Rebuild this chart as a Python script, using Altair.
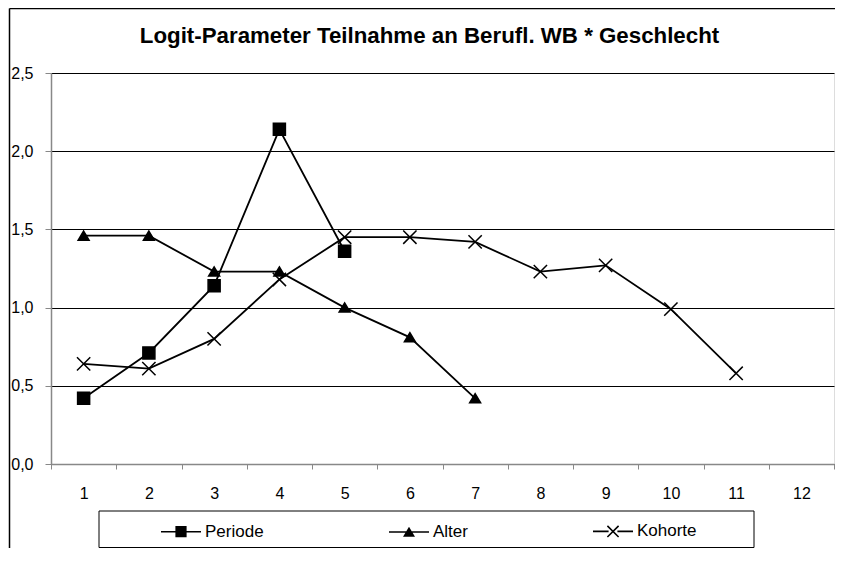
import altair as alt
import pandas as pd

# ---- data ----
categories = list(range(1, 13))
series_names = ["Periode", "Alter", "Kohorte"]
periode = [0.42, 0.71, 1.14, 2.14, 1.36]
alter = [1.46, 1.46, 1.23, 1.23, 1.00, 0.81, 0.42]
kohorte = [0.64, 0.61, 0.80, 1.18, 1.45, 1.45, 1.42, 1.23, 1.27, 0.99, 0.58]
y_ticks = [0.0, 0.5, 1.0, 1.5, 2.0, 2.5]
title_text = "Logit-Parameter Teilnahme an Berufl. WB * Geschlecht"

rows = []
for name, vals in zip(series_names, [periode, alter, kohorte]):
    for i, v in enumerate(vals):
        rows.append({"Serie": name, "Index": categories[i], "Wert": v})
df = pd.DataFrame(rows)

FONT = "Liberation Sans"

# marker paths (unit box -1..1)
plot_paths = [
    "M-0.86,-0.86H0.86V0.86H-0.86Z",
    "M0,-0.66L0.78,0.64H-0.78Z",
    "M-0.95,-0.95L0.95,0.95M-0.95,0.95L0.95,-0.95",
]
# legend symbols: filled shapes, line segments drawn as thin filled bars
legend_paths = [
    "M-1,-0.04H1V0.04H-1Z M-0.28,-0.28H0.28V0.28H-0.28Z",
    "M-1,-0.04H1V0.04H-1Z M0,-0.26L0.3,0.24H-0.3Z",
    "M-1,-0.04H-0.22V0.04H-1Z M0.22,-0.04H1V0.04H0.22Z "
    "M-0.252,-0.308L0.308,0.252L0.252,0.308L-0.308,-0.252Z "
    "M-0.252,0.308L-0.308,0.252L0.252,-0.308L0.308,-0.252Z",
]

PLOT_W = 783
PLOT_H = 391

x_enc = alt.X(
    "Index:O",
    scale=alt.Scale(type="band", domain=categories, paddingInner=0, paddingOuter=0),
    bandPosition=0.5,
    axis=alt.Axis(
        title=None, labelAngle=0, tickBand="extent", tickSize=5,
        labelPadding=16, labelFontSize=16, grid=False, domainWidth=1.5,
    ),
)
y_enc = alt.Y(
    "Wert:Q",
    scale=alt.Scale(domain=[0, 2.5], nice=False, zero=True),
    axis=alt.Axis(
        title=None, values=y_ticks,
        labelExpr="replace(format(datum.value, '.1f'), '.', ',')",
        tickSize=6, labelPadding=12, grid=True, gridColor="black",
        gridWidth=1, labelFontSize=16, domainWidth=1.5,
    ),
)

one = pd.DataFrame({"a": [0]})

frame_left = alt.Chart(one).mark_rule(color="black", strokeWidth=1.5).encode(
    x=alt.value(-41.5), y=alt.value(-64.5), y2=alt.value(480)
)
frame_top = alt.Chart(one).mark_rule(color="black", strokeWidth=1.5).encode(
    x=alt.value(-41.5), x2=alt.value(800), y=alt.value(-64.5)
)
legend_box = alt.Chart(one).mark_rect(fill="white", stroke="black", strokeWidth=1).encode(
    x=alt.value(48), x2=alt.value(703), y=alt.value(438), y2=alt.value(474.5)
)

lines = alt.Chart(df).mark_line(color="black", strokeWidth=1.8).encode(
    x=x_enc, y=y_enc, detail="Serie:N", order="Index:Q"
)

points = alt.Chart(df).mark_point(
    fill="black", stroke="black", strokeWidth=1.5, opacity=1, size=196
).encode(
    x=x_enc, y=y_enc,
    shape=alt.Shape("Serie:N", scale=alt.Scale(domain=series_names, range=plot_paths), legend=None),
)

legend_layer = alt.Chart(df).transform_filter("datum.Wert > 100").mark_point(
    filled=True, color="black", opacity=1
).encode(
    x=x_enc, y=y_enc,
    shape=alt.Shape(
        "Serie:N",
        scale=alt.Scale(domain=series_names, range=legend_paths),
        legend=alt.Legend(
            title=None, orient="none", legendX=109, legendY=437,
            direction="horizontal", symbolSize=1600, labelFontSize=17,
            labelFont=FONT, labelColor="black", labelOffset=3,
            columnPadding=122, padding=0,
            symbolFillColor="black",
        ),
    ),
)

chart = (
    alt.layer(frame_left, frame_top, legend_box, lines, points, legend_layer)
    .resolve_scale(shape="independent")
    .resolve_legend(shape="independent")
    .properties(
        width=PLOT_W, height=PLOT_H,
        title=alt.TitleParams(
            title_text, fontSize=22.3, font=FONT, fontWeight="bold",
            anchor="middle", frame="group", dx=-13, dy=40, offset=0, color="black",
        ),
        padding={"left": 43, "top": 65, "right": 1, "bottom": 84},
        autosize="none",
    )
    .configure_view(stroke="black", strokeWidth=1.5)
    .configure_axis(
        labelFont=FONT, labelColor="black", domainColor="black",
        tickColor="black", tickWidth=1,
    )
    .configure(background="white")
)

chart.save("out.html", embed_options={"renderer": "svg", "actions": False})
